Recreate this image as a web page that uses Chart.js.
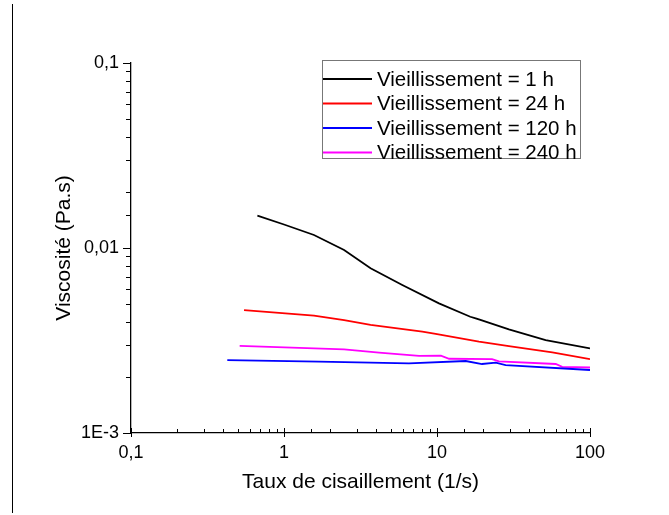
<!DOCTYPE html>
<html lang="fr">
<head>
    <meta charset="UTF-8" />
    <title>Viscosité - vieillissement</title>
    <script src="https://cdn.jsdelivr.net/npm/chart.js"></script>
    <style>
        body {
            margin: 0;
            background: #fff;
        }
        .wrap {
            position: relative;
            width: 669px;
            height: 515px;
        }
        .side-line {
            position: absolute;
            left: 12px;
            top: 4px;
            width: 1px;
            height: 509px;
            background: #000;
        }
    </style>
</head>
<body>

<div class="wrap">
    <div class="side-line"></div>
    <canvas id="viscoChart" width="669" height="515"></canvas>
</div>

<script>
    // taux de cisaillement (1/s) et viscosité (Pa.s)
    const x1h = [0.67, 1.0, 1.57, 2.47, 3.68, 5.93, 10.3, 16.5, 17.9, 19.0, 29.5, 51.3, 100];
    const y1h = [0.01495, 0.0134, 0.01176, 0.00975, 0.00777, 0.00631, 0.00502, 0.00425, 0.00417, 0.00410, 0.00363, 0.00318, 0.00287];

    const x24h = [0.548, 1.57, 2.47, 3.68, 8.02, 9.8, 18.8, 29.5, 56.7, 100];
    const y24h = [0.00462, 0.00431, 0.00408, 0.00384, 0.00353, 0.00343, 0.00312, 0.00295, 0.00273, 0.00251];

    const x120h = [0.426, 1.69, 6.56, 15.4, 19.7, 24.2, 28.1, 100];
    const y120h = [0.00248, 0.00243, 0.00238, 0.00245, 0.00236, 0.00240, 0.00233, 0.00219];

    const x240h = [0.513, 2.47, 4.18, 7.63, 10.6, 12.0, 22.9, 25.4, 59.7, 65.8, 100];
    const y240h = [0.00296, 0.00283, 0.00272, 0.00261, 0.00262, 0.00252, 0.00251, 0.00244, 0.00236, 0.00228, 0.00226];

    const seriesNames = ['Vieillissement = 1 h', 'Vieillissement = 24 h', 'Vieillissement = 120 h', 'Vieillissement = 240 h'];
    const seriesColors = ['#000000', '#ff0000', '#0000ff', '#ff00ff'];

    const xLabels = { 0.1: '0,1', 1: '1', 10: '10', 100: '100' };
    const yLabels = { 0.001: '1E-3', 0.01: '0,01', 0.1: '0,1' };

    const FONT = '"Liberation Sans", Arial, sans-serif';

    function pts(xs, ys) {
        return xs.map((x, i) => ({ x: x, y: ys[i] }));
    }

    function isPow10(v) {
        const l = Math.log10(v);
        return Math.abs(l - Math.round(l)) < 1e-6;
    }

    const allX = [x1h, x24h, x120h, x240h];
    const allY = [y1h, y24h, y120h, y240h];

    // graduations façon Origin : majeures longues, mineures courtes
    const originTicks = {
        id: 'originTicks',
        afterDraw(chart) {
            const ctx = chart.ctx;
            const xs = chart.scales.x, ys = chart.scales.y;
            ctx.save();
            ctx.strokeStyle = '#000';
            ctx.lineWidth = 1;
            ctx.beginPath();
            xs.ticks.forEach(t => {
                const px = Math.round(xs.getPixelForValue(t.value)) + 0.5;
                const major = isPow10(t.value);
                ctx.moveTo(px, xs.top - (major ? 5 : 4));
                ctx.lineTo(px, xs.top + (major ? 4 : 0));
            });
            ys.ticks.forEach(t => {
                const py = Math.round(ys.getPixelForValue(t.value)) + 0.5;
                const major = isPow10(t.value);
                ctx.moveTo(ys.right - (major ? 8 : 5), py);
                ctx.lineTo(ys.right, py);
            });
            ctx.stroke();
            ctx.restore();
        }
    };

    // légende dessinée dans la zone du graphe
    const boxLegend = {
        id: 'boxLegend',
        afterDraw(chart) {
            const ctx = chart.ctx;
            const left = 322, top = 60, w = 258, h = 98;
            ctx.save();
            ctx.strokeStyle = '#777';
            ctx.lineWidth = 1;
            ctx.strokeRect(left + 0.5, top + 0.5, w, h);
            ctx.font = '20.5px ' + FONT;
            ctx.textBaseline = 'middle';
            chart.data.datasets.forEach((ds, i) => {
                const y = top + 19 + i * 24.5;
                ctx.strokeStyle = ds.borderColor;
                ctx.lineWidth = 2;
                ctx.beginPath();
                ctx.moveTo(left + 1, y);
                ctx.lineTo(left + 50, y);
                ctx.stroke();
                ctx.fillStyle = '#000';
                ctx.fillText(ds.label, left + 55, y + 1);
            });
            ctx.restore();
        }
    };

    const ctx = document.getElementById('viscoChart').getContext('2d');
    new Chart(ctx, {
        type: 'line',
        data: {
            datasets: seriesNames.map((name, i) => ({
                label: name,
                data: pts(allX[i], allY[i]),
                borderColor: seriesColors[i],
                backgroundColor: seriesColors[i],
                borderWidth: 1.8,
                pointRadius: 0,
                tension: 0,
                fill: false
            }))
        },
        options: {
            responsive: false,
            animation: false,
            layout: {
                padding: { left: 0, right: 79, top: 63, bottom: 0 }
            },
            plugins: {
                legend: { display: false },
                tooltip: { enabled: false }
            },
            scales: {
                x: {
                    type: 'logarithmic',
                    min: 0.1,
                    max: 100,
                    afterFit: s => { s.height = 82; },
                    border: { display: true, color: '#000', width: 1.3 },
                    grid: { display: false },
                    ticks: {
                        autoSkip: false,
                        maxRotation: 0,
                        color: '#000',
                        padding: 1,
                        font: { family: FONT, size: 18 },
                        callback: v => isPow10(v) ? (xLabels[Number(v.toPrecision(3))] || '') : ''
                    },
                    title: {
                        display: true,
                        text: 'Taux de cisaillement (1/s)',
                        color: '#000',
                        font: { family: FONT, size: 21 },
                        padding: { top: 4, bottom: 20 }
                    }
                },
                y: {
                    type: 'logarithmic',
                    min: 0.001,
                    max: 0.1,
                    afterFit: s => { s.width = 131; },
                    border: { display: true, color: '#000', width: 1.3 },
                    grid: { display: false },
                    ticks: {
                        autoSkip: false,
                        color: '#000',
                        padding: 4,
                        font: { family: FONT, size: 18 },
                        callback: v => isPow10(v) ? (yLabels[Number(v.toPrecision(3))] || '') : ''
                    },
                    title: {
                        display: true,
                        text: 'Viscosité (Pa.s)',
                        color: '#000',
                        font: { family: FONT, size: 21 },
                        padding: { top: 52, bottom: 0 }
                    }
                }
            }
        },
        plugins: [originTicks, boxLegend]
    });
</script>

</body>
</html>
